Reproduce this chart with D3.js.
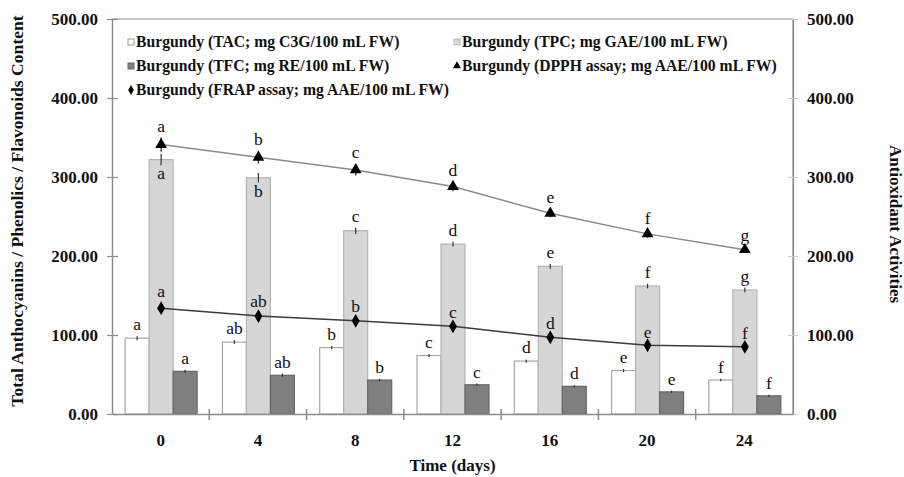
<!doctype html>
<html lang="en">
<head>
<script src="https://d3js.org/d3.v7.min.js"></script>
<style>
  body { margin: 0; background: #fff; }
  text { font-family: "Liberation Serif", "Times New Roman", serif; }
  .tick-label { font-weight: bold; font-size: 17px; fill: #111; }
  .legend-text { font-weight: bold; font-size: 15.7px; fill: #111; }
  .axis-title { font-weight: bold; font-size: 17px; fill: #111; }
  .sig { font-size: 17.5px; fill: #111; }
</style>
</head>
<body>
<div id="chart"></div>
<script>
  // data
  let days = ["0", "4", "8", "12", "16", "20", "24"];
  let tac = [96, 91, 84, 74, 67, 55, 43];
  let tacErr = [2.5, 2.5, 2, 2, 2, 2, 1.5];
  let tacSig = ["a", "ab", "b", "c", "d", "e", "f"];
  let tpc = [322, 299, 232, 215, 187, 162, 157];
  let tpcErr = [7, 6, 4, 3, 3, 3, 3];
  let tpcSig = ["a", "b", "c", "d", "e", "f", "g"];
  let tfc = [54, 49, 43, 37, 35, 28, 23];
  let tfcErr = [2, 2, 1.5, 1.5, 1.5, 1.5, 1.5];
  let tfcSig = ["a", "ab", "b", "c", "d", "e", "f"];
  let dpph = [341, 325, 309, 288, 254, 228, 208];
  let dpphErr = [9, 8, 7, 6, 5, 5, 4];
  let dpphSig = ["a", "b", "c", "d", "e", "f", "g"];
  let frap = [134, 124, 118, 111, 97, 87, 85];
  let frapErr = [6, 4, 4, 3, 3, 2, 2];
  let frapSig = ["a", "ab", "b", "c", "d", "e", "f"];
  let yTicks = [0, 100, 200, 300, 400, 500];

  let width = 904, height = 477;
  let margin = {top: 19, right: 111, bottom: 63, left: 112};

  let svg = d3.select("#chart").append("svg")
      .attr("width", width).attr("height", height);

  let xScale = d3.scaleBand().domain(days).range([margin.left, width - margin.right]);
  let bw = xScale.bandwidth();
  let sub = d3.scaleBand().domain(["tac", "tpc", "tfc"]).range([bw * 0.135, bw * 0.875]);
  let yScale = d3.scaleLinear().domain([0, 500]).range([height - margin.bottom, margin.top]);

  let x0 = margin.left, x1 = width - margin.right;
  let yb = yScale(0), yt = yScale(500);
  let frameColor = "#8c8c8c";

  // frame
  svg.append("line").attr("x1", x0).attr("x2", x1).attr("y1", yt).attr("y2", yt)
     .attr("stroke", frameColor).attr("stroke-width", 1.2);
  svg.append("line").attr("x1", x1).attr("x2", x1).attr("y1", yt).attr("y2", yb)
     .attr("stroke", frameColor).attr("stroke-width", 1.2);

  // left axis
  let yAxisL = svg.append("g").attr("transform", `translate(${x0},0)`)
     .call(d3.axisLeft(yScale).tickValues(yTicks).tickSize(0).tickFormat(d3.format(".2f")));
  yAxisL.select(".domain").attr("stroke", frameColor).attr("stroke-width", 1.5);
  yAxisL.selectAll(".tick line").attr("x1", -5).attr("x2", 6).attr("stroke", frameColor).attr("stroke-width", 1.2);
  yAxisL.selectAll(".tick text").attr("class", "tick-label").attr("x", -14).attr("dy", "0.35em");

  // right axis
  let yAxisR = svg.append("g").attr("transform", `translate(${x1},0)`)
     .call(d3.axisRight(yScale).tickValues(yTicks).tickSize(0).tickFormat(d3.format(".2f")));
  yAxisR.select(".domain").attr("stroke", frameColor).attr("stroke-width", 1.2);
  yAxisR.selectAll(".tick line").attr("x1", -5).attr("x2", 5).attr("stroke", "#ccc");
  yAxisR.selectAll(".tick text").attr("class", "tick-label").attr("x", 14).attr("dy", "0.35em");

  // bars
  let series = [
    {key: "tac", vals: tac, err: tacErr, sig: tacSig, fill: "#ffffff", stroke: "#a8a8a8"},
    {key: "tpc", vals: tpc, err: tpcErr, sig: tpcSig, fill: "#d6d6d6", stroke: "#b4b4b4"},
    {key: "tfc", vals: tfc, err: tfcErr, sig: tfcSig, fill: "#7f7f7f", stroke: "#666666"}
  ];

  series.forEach(function(s) {
    let g = svg.append("g");
    let cx = (d, i) => xScale(days[i]) + sub(s.key) + sub.bandwidth() / 2;
    g.selectAll("rect").data(s.vals).enter().append("rect")
      .attr("x", (d, i) => xScale(days[i]) + sub(s.key))
      .attr("width", sub.bandwidth())
      .attr("y", d => yScale(d))
      .attr("height", d => yb - yScale(d))
      .attr("fill", s.fill).attr("stroke", s.stroke).attr("stroke-width", 1.2);
    g.selectAll("line.err").data(s.vals).enter().append("line")
      .attr("x1", cx).attr("x2", cx)
      .attr("y1", (d, i) => yScale(d - s.err[i]))
      .attr("y2", (d, i) => yScale(d + s.err[i]))
      .attr("stroke", "#333").attr("stroke-width", 1.2);
  });

  // x axis
  let xAxis = svg.append("g").attr("transform", `translate(0,${yb})`)
     .call(d3.axisBottom(xScale).tickSize(0));
  xAxis.select(".domain").attr("stroke", frameColor).attr("stroke-width", 1.5);
  xAxis.selectAll(".tick text").attr("class", "tick-label").attr("y", 20);
  svg.append("g").selectAll("line").data(days.slice(1)).enter().append("line")
    .attr("x1", d => xScale(d)).attr("x2", d => xScale(d))
    .attr("y1", yb - 5).attr("y2", yb + 6)
    .attr("stroke", frameColor).attr("stroke-width", 1.5);

  // lines
  let mid = (d, i) => xScale(days[i]) + sub("tpc") + sub.bandwidth() / 2;
  let lineGen = d3.line().x(mid).y(d => yScale(d));

  function drawLine(vals, err, color, symbol, size) {
    let g = svg.append("g");
    g.append("path").datum(vals).attr("d", lineGen)
      .attr("fill", "none").attr("stroke", color).attr("stroke-width", 1.5);
    g.selectAll("line").data(vals).enter().append("line")
      .attr("x1", mid).attr("x2", mid)
      .attr("y1", (d, i) => yScale(d - err[i]))
      .attr("y2", (d, i) => yScale(d + err[i]))
      .attr("stroke", "#222").attr("stroke-width", 1.2);
    g.selectAll("path.pt").data(vals).enter().append("path")
      .attr("class", "pt")
      .attr("transform", (d, i) => `translate(${mid(d, i)},${yScale(d)})`)
      .attr("d", d3.symbol().type(symbol).size(size))
      .attr("fill", "#000");
  }
  drawLine(dpph, dpphErr, "#8a8a8a", d3.symbolTriangle, 60);
  drawLine(frap, frapErr, "#3a3a3a", d3.symbolDiamond, 55);

  // significance letters
  series.forEach(function(s) {
    svg.append("g").selectAll("text").data(s.vals).enter().append("text")
      .attr("class", "sig").attr("text-anchor", "middle")
      .attr("x", (d, i) => xScale(days[i]) + sub(s.key) + sub.bandwidth() / 2)
      .attr("y", function(d, i) {
        if (s.key === "tpc" && i < 2) return yScale(d - s.err[i]) + 14;
        return yScale(d + s.err[i]) - 6;
      })
      .text((d, i) => s.sig[i]);
  });
  [[dpph, dpphErr, dpphSig], [frap, frapErr, frapSig]].forEach(function(p) {
    svg.append("g").selectAll("text").data(p[0]).enter().append("text")
      .attr("class", "sig").attr("text-anchor", "middle")
      .attr("x", mid)
      .attr("y", (d, i) => yScale(d + p[1][i]) - 6)
      .text((d, i) => p[2][i]);
  });

  // legend
  let legend = [
    {label: "Burgundy (TAC; mg C3G/100 mL FW)", type: "rect", fill: "#fff", stroke: "#999", col: 0, row: 0},
    {label: "Burgundy (TPC; mg GAE/100 mL FW)", type: "rect", fill: "#d6d6d6", stroke: "#bbb", col: 1, row: 0},
    {label: "Burgundy (TFC; mg RE/100 mL FW)", type: "rect", fill: "#7f7f7f", stroke: "#666", col: 0, row: 1},
    {label: "Burgundy (DPPH assay; mg AAE/100 mL FW)", type: "tri", col: 1, row: 1},
    {label: "Burgundy (FRAP assay; mg AAE/100 mL FW)", type: "dia", col: 0, row: 2}
  ];
  let lg = svg.append("g");
  legend.forEach(function(l) {
    let lx = l.col === 0 ? 131 : 457;
    let ly = 42 + l.row * 24;
    if (l.type === "rect") {
      lg.append("rect").attr("x", lx - 3).attr("y", ly - 3).attr("width", 6).attr("height", 6)
        .attr("fill", l.fill).attr("stroke", l.stroke);
    } else {
      lg.append("path").attr("transform", `translate(${lx},${ly})`)
        .attr("d", d3.symbol().type(l.type === "tri" ? d3.symbolTriangle : d3.symbolDiamond).size(28))
        .attr("fill", "#000");
    }
    lg.append("text").attr("class", "legend-text").attr("x", lx + 5).attr("y", ly).attr("dy", "0.35em")
      .text(l.label);
  });

  // axis titles
  svg.append("text").attr("class", "axis-title").attr("text-anchor", "middle")
    .attr("x", (x0 + x1) / 2).attr("y", 471).text("Time (days)");
  svg.append("text").attr("class", "axis-title").attr("text-anchor", "middle")
    .attr("transform", "translate(23,211) rotate(-90)")
    .style("font-size", "17.6px").text("Total Anthocyanins / Phenolics / Flavonoids Content");
  svg.append("text").attr("class", "axis-title").attr("text-anchor", "middle")
    .attr("transform", "translate(890,224) rotate(90)").text("Antioxidant Activities");
</script>
</body>
</html>
